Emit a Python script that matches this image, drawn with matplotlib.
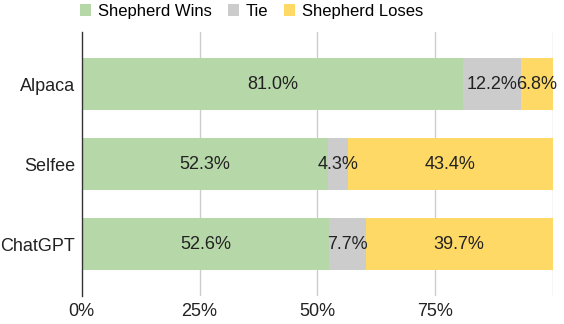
import matplotlib.pyplot as plt
import numpy as np

categories = ["Alpaca", "Selfee", "ChatGPT"]
wins = [81.0, 52.3, 52.6]
ties = [12.2, 4.3, 7.7]
loses = [6.8, 43.4, 39.7]
series_names = ["Shepherd Wins", "Tie", "Shepherd Loses"]
colors = ["#b6d7a8", "#cccccc", "#ffd966"]
xticks = [0, 25, 50, 75]
xtick_labels = ["0%", "25%", "50%", "75%"]

plt.rcParams['font.family'] = ['Liberation Sans', 'DejaVu Sans']
plt.rcParams['font.size'] = 13

fig = plt.figure(figsize=(5.64, 3.24), dpi=100)
ax = fig.add_axes([0.145, 0.086, 0.835, 0.815])

y = np.arange(len(categories))[::-1]
left = np.zeros(len(categories))
for name, vals, c in zip(series_names, [wins, ties, loses], colors):
    vals = np.array(vals)
    ax.barh(y, vals, left=left, height=0.65, color=c, label=name, zorder=2)
    for yi, l, v in zip(y, left, vals):
        ax.text(l + v / 2, yi, f"{v:.1f}%", ha="center", va="center",
                fontsize=13, color="#222222", zorder=3)
    left = left + vals

ax.set_xlim(0, 100)
ax.set_ylim(-0.65, 2.65)
ax.set_yticks(y)
ax.set_yticklabels(categories, color="#222222")
ax.set_xticks(xticks)
ax.set_xticklabels(xtick_labels, color="#222222")
for gx in [25, 50, 75, 100]:
    ax.axvline(gx, color="#cccccc", linewidth=1, zorder=1)
ax.tick_params(axis="y", length=0, pad=5)
ax.tick_params(axis="x", length=0, pad=5)
for s in ["top", "right", "bottom"]:
    ax.spines[s].set_visible(False)
ax.spines["left"].set_color("#333333")
ax.spines["left"].set_linewidth(1)

fig.legend(loc="center", bbox_to_anchor=(0.446, 0.965), ncol=3, frameon=False,
           handlelength=0.66, handleheight=0.66, handletextpad=0.42, columnspacing=0.95,
           fontsize=12, borderpad=0)

fig.savefig("out.png", dpi=100)
